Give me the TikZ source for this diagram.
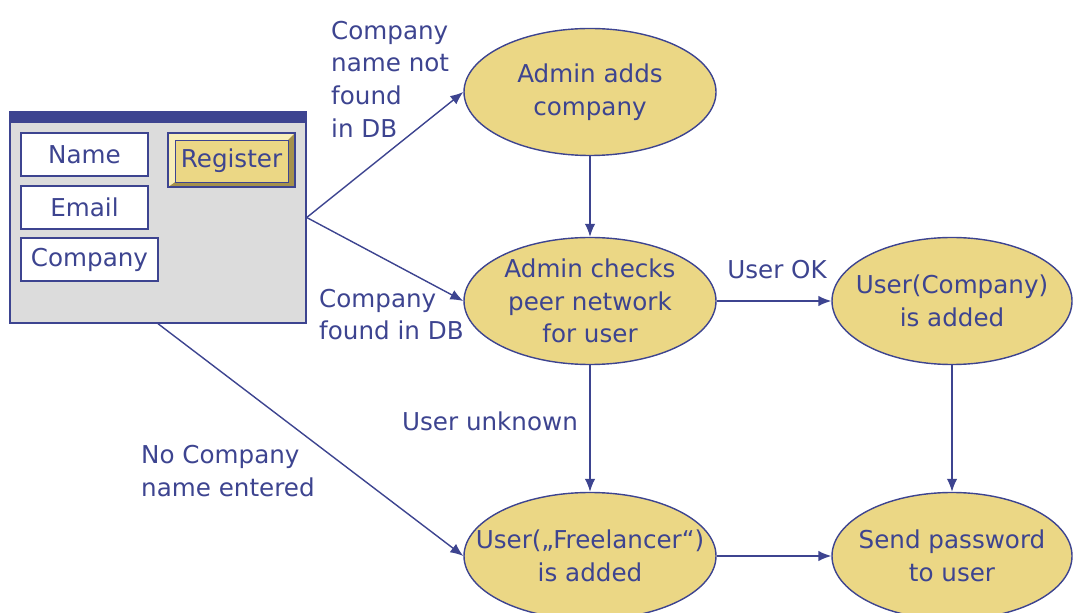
\documentclass[tikz,border=0pt]{standalone}
\usepackage{fontspec}
\setmainfont{DejaVu Sans}
\usetikzlibrary{shapes.geometric,arrows.meta}

\definecolor{navy}{RGB}{61,68,144}
\definecolor{sand}{RGB}{235,215,133}
\definecolor{wingray}{RGB}{220,220,220}
\definecolor{bevlight}{RGB}{248,238,185}
\definecolor{bevdark}{RGB}{165,145,75}

\tikzset{
  every node/.style={text=navy, font=\fontsize{14}{18.6}\selectfont},
  >={Latex[length=2.6mm,width=2.1mm]},
  state/.style={ellipse, draw=navy, fill=sand, thick, align=center,
    inner xsep=-1.2cm, inner ysep=-0.6cm, minimum width=5.04cm, minimum height=2.54cm},
  field/.style={rectangle, draw=navy, fill=white, thick, inner sep=0pt,
    minimum width=2.54cm, minimum height=0.86cm},
  note/.style={align=left, anchor=west},
  flow/.style={->, draw=navy, thick}
}

\begin{document}
\begin{tikzpicture}
      % Bounding box
      \useasboundingbox (0,0) rectangle (21.46,12.24);
      \clip (0,0) rectangle (21.46,12.24);

      % registration window
      \draw (3.16,7.89) node (win)[rectangle, draw=navy, fill=wingray, thick,
        minimum width=5.92cm, minimum height=4.22cm] {};
      \fill[navy] (win.north west) rectangle ([yshift=-0.24cm]win.north east);

      \draw (1.69,9.15) node (name)[field] {Name};
      \draw (1.69,8.09) node (email)[field] {Email};
      \draw (1.79,7.05) node (company)[field, minimum width=2.74cm] {Company};

      % button with bevel
      \fill[bevdark] (3.36,8.50) rectangle (5.90,9.58);
      \fill[bevlight] (3.36,8.50) -- (3.50,8.60) -- (5.76,9.44) -- (5.90,9.58) -- (3.36,9.58) -- cycle;
      \draw (4.63,9.02) node (register)[rectangle, draw=navy, fill=sand, thin,
        inner sep=0pt, minimum width=2.26cm, minimum height=0.84cm] {Register};
      \draw[navy, thick] (3.36,8.50) rectangle (5.90,9.58);

      % states
      \draw (11.80,10.40) node (adds)[state] {Admin adds\\company};
      \draw (11.80,6.22) node (checks)[state] {Admin checks\\peer network\\for user};
      \draw (19.04,6.22) node (usercomp)[state, minimum width=4.80cm] {User(Company)\\is added};
      \draw (11.80,1.12) node (free)[state] {User(„Freelancer“)\\is added};
      \draw (19.04,1.12) node (send)[state, minimum width=4.80cm] {Send password\\to user};

      % labels
      \draw (6.50,10.66) node (notfound)[note] {Company\\name not\\found\\in DB};
      \draw (6.26,5.95) node (found)[note] {Company\\found in DB};
      \draw (15.54,6.84) node (userok) {User OK};
      \draw (9.80,3.82) node (unknown) {User unknown};
      \draw (2.70,2.82) node (noname)[note] {No Company\\name entered};

      \draw [flow] (win.east) -- (adds.west);
      \draw [flow] (win.east) -- (checks.west);
      \draw [flow] (win.south) -- (free.west);
      \draw [flow] (adds) -- (checks);
      \draw [flow] (checks) -- (free);
      \draw [flow] (checks) -- (usercomp);
      \draw [flow] (usercomp) -- (send);
      \draw [flow] (free) -- (send);
    \end{tikzpicture}
\end{document}
